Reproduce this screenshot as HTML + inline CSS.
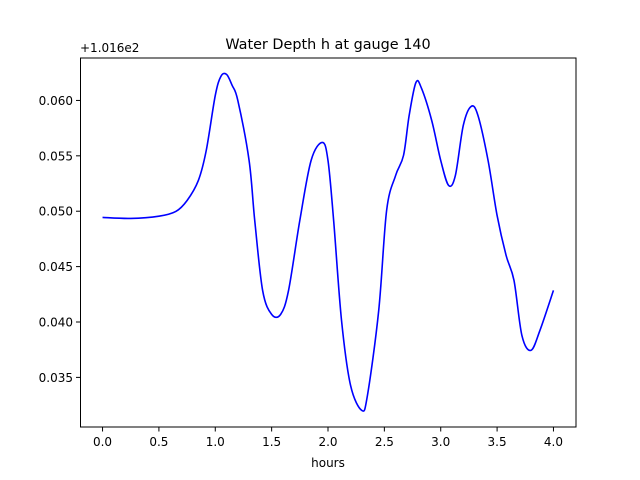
<!DOCTYPE html>
<html><head><meta charset="utf-8"><style>
html,body{margin:0;padding:0;background:#fff;}
svg{display:block;font-family:"DejaVu Sans","Liberation Sans",sans-serif;}
</style></head><body>
<svg id="chart" width="640" height="480" xmlns="http://www.w3.org/2000/svg">
<rect width="640" height="480" fill="#fff"/>
<text x="328" y="49" font-size="14.4" text-anchor="middle">Water Depth h at gauge 140</text>
<text x="80" y="52" font-size="12">+1.016e2</text>
<text x="328" y="467" font-size="12" text-anchor="middle">hours</text>
<g id="ticks"></g>
<path id="line" fill="none" stroke="#0000ff" stroke-width="1.6"/>
<rect x="80.5" y="58" width="495.5" height="369" fill="none" stroke="#000" stroke-width="1"/>
</svg>
<script>
const hours = [0.0,0.25,0.5,0.65,0.75,0.85,0.92,1.0,1.05,1.1,1.15,1.2,1.3,1.35,1.42,1.5,1.58,1.65,1.75,1.85,1.95,2.0,2.05,2.12,2.2,2.3,2.35,2.45,2.52,2.6,2.67,2.72,2.78,2.83,2.92,3.0,3.07,3.13,3.2,3.27,3.33,3.42,3.5,3.58,3.65,3.72,3.8,3.88,4.0];
const depth = [0.04944,0.04935,0.04955,0.04998,0.05097,0.05278,0.05549,0.06045,0.06217,0.06235,0.06135,0.06000,0.05458,0.04917,0.04285,0.04069,0.04069,0.04285,0.04917,0.05458,0.05621,0.05458,0.04917,0.04014,0.03428,0.03202,0.03338,0.04105,0.05007,0.05323,0.05504,0.05865,0.06162,0.06108,0.05819,0.05458,0.05233,0.05323,0.05774,0.05946,0.05865,0.05458,0.04962,0.04601,0.04375,0.03879,0.03744,0.03924,0.04285];
const xTicks = [0.0,0.5,1.0,1.5,2.0,2.5,3.0,3.5,4.0];
const xTickLabels = ["0.0","0.5","1.0","1.5","2.0","2.5","3.0","3.5","4.0"];
const yTicks = [0.035,0.040,0.045,0.050,0.055,0.060];
const yTickLabels = ["0.035","0.040","0.045","0.050","0.055","0.060"];

const X0=80,X1=576,Y0=427.2,Y1=57.6;
const xmin=-0.2,xmax=4.2;
const dmin=Math.min(...depth),dmax=Math.max(...depth),m=(dmax-dmin)*0.05;
const ymin=dmin-m,ymax=dmax+m;
const sx=v=>X0+(v-xmin)/(xmax-xmin)*(X1-X0);
const sy=v=>Y0-(v-ymin)/(ymax-ymin)*(Y0-Y1);
const NS="http://www.w3.org/2000/svg";
const g=document.getElementById('ticks');
function mk(t,a){const e=document.createElementNS(NS,t);for(const k in a)e.setAttribute(k,a[k]);g.appendChild(e);return e;}
xTicks.forEach((t,i)=>{const x=sx(t);
 const l=mk('line',{x1:x,x2:x,y1:427,y2:431.5,stroke:'#000'});
 
 
 const tx=mk('text',{x:x,y:446,'font-size':12,'text-anchor':'middle'});tx.textContent=xTickLabels[i];
 
 
});
yTicks.forEach((t,i)=>{const y=sy(t);
 const l=mk('line',{x1:76,x2:80.5,y1:y,y2:y,stroke:'#000'});
 
 
 const tx=mk('text',{x:73,y:y+4.5,'font-size':12,'text-anchor':'end'});tx.textContent=yTickLabels[i];
 
 
});
const P=hours.map((h,i)=>[sx(h),sy(depth[i])]);
let d='M'+P[0][0]+','+P[0][1];
for(let i=0;i<P.length-1;i++){
 const p0=P[Math.max(0,i-1)],p1=P[i],p2=P[i+1],p3=P[Math.min(P.length-1,i+2)];
 const c1=[p1[0]+(p2[0]-p0[0])/6,p1[1]+(p2[1]-p0[1])/6];
 const c2=[p2[0]-(p3[0]-p1[0])/6,p2[1]-(p3[1]-p1[1])/6];
 d+=' C'+c1+' '+c2+' '+p2;
}
document.getElementById('line').setAttribute('d',d);
</script>
</body></html>
